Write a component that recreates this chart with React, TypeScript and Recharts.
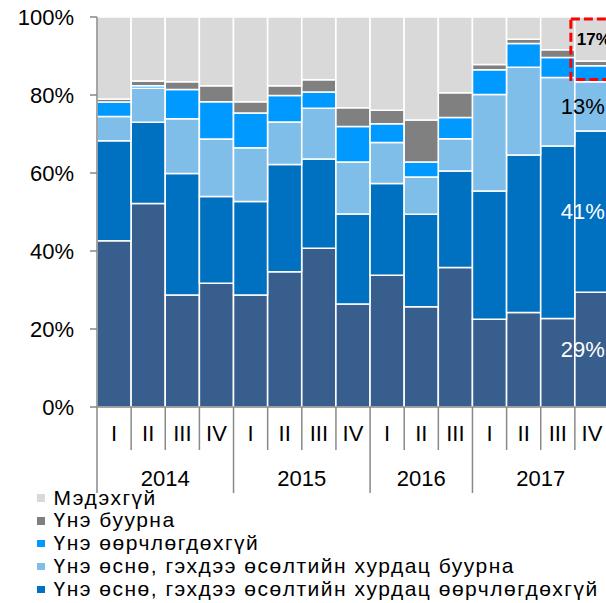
import React from "react";
import { BarChart, Bar, XAxis, YAxis, Legend, LabelList } from "recharts";

const categories = ["2014-I","2014-II","2014-III","2014-IV","2015-I","2015-II","2015-III","2015-IV","2016-I","2016-II","2016-III","2017-I","2017-II","2017-III","2017-IV"];
const quarters = ["I","II","III","IV","I","II","III","IV","I","II","III","I","II","III","IV"];
const years = ["2014","2014","2014","2014","2015","2015","2015","2015","2016","2016","2016","2017","2017","2017","2017"];
const yTicks = [0, 20, 40, 60, 80, 100];

const riseFaster = [42.6, 52.2, 28.7, 31.7, 28.7, 34.7, 40.7, 26.4, 33.8, 25.7, 35.8, 22.5, 24.2, 22.7, 29.4];
const riseSame = [25.7, 20.8, 31.2, 22.3, 24.0, 27.5, 22.9, 23.1, 23.5, 23.7, 24.7, 32.9, 40.4, 44.2, 41.4];
const riseSlower = [6.2, 8.7, 14.0, 14.7, 13.8, 10.9, 13.0, 13.3, 10.5, 9.6, 8.3, 24.7, 22.5, 17.6, 12.6];
const noChange = [3.7, 0.7, 7.5, 9.6, 8.9, 6.8, 4.2, 9.1, 4.8, 3.8, 5.4, 6.4, 6.1, 5.1, 4.1];
const fall = [0.8, 1.2, 2.0, 4.1, 2.9, 2.5, 3.1, 4.8, 3.5, 10.8, 6.4, 1.3, 1.1, 2.0, 1.2];
const dontKnow = [21.0, 16.4, 16.6, 17.6, 21.7, 17.6, 16.1, 23.3, 23.9, 26.4, 19.4, 12.2, 5.7, 8.4, 11.3];

const seriesNames = {
  riseFaster: "Үнэ өснө, өсөлтийн хурдац нэмэгдэнэ",
  riseSame: "Үнэ өснө, гэхдээ өсөлтийн хурдац өөрчлөгдөхгүй",
  riseSlower: "Үнэ өснө, гэхдээ өсөлтийн хурдац буурна",
  noChange: "Үнэ өөрчлөгдөхгүй",
  fall: "Үнэ буурна",
  dontKnow: "Мэдэхгүй",
};
const lastBarLabels = { riseFaster: "29%", riseSame: "41%", riseSlower: "13%", dontKnow: "17%" };
// highlighted range (in %) of the last bar: top three segments
const highlightRange = [84, 99.5];

const colors = {
  riseFaster: "#385E8E",
  riseSame: "#0070C0",
  riseSlower: "#80BEEA",
  noChange: "#0099FF",
  fall: "#808080",
  dontKnow: "#D9D9D9",
};

const stackOrder = ["riseFaster", "riseSame", "riseSlower", "noChange", "fall", "dontKnow"] as const;
const legendOrder = ["dontKnow", "fall", "noChange", "riseSlower", "riseSame"] as const;

const data = categories.map((key, i) => ({
  key,
  riseFaster: riseFaster[i],
  riseSame: riseSame[i],
  riseSlower: riseSlower[i],
  noChange: noChange[i],
  fall: fall[i],
  dontKnow: dontKnow[i],
}));

const FONT = "Arial, 'Liberation Sans', sans-serif";
const AXIS = "#898989";

const XTick = (props: any) => {
  const { x, y, index, visibleTicksCount, width } = props;
  const n = visibleTicksCount || categories.length;
  const bw = (typeof width === "number" ? width : 512) / n;
  const left = x - bw / 2;
  const yearStart = index === 0 || years[index] !== years[index - 1];
  const groupCount = years.filter((yy) => yy === years[index]).length;
  const isLast = index === n - 1;
  return (
    <g>
      <line x1={left} x2={left} y1={y} y2={y + (yearStart ? 86 : 43)} stroke={AXIS} strokeWidth={1.5} />
      {isLast && <line x1={x + bw / 2} x2={x + bw / 2} y1={y} y2={y + 86} stroke={AXIS} strokeWidth={1.5} />}
      <text x={x} y={y + 26} dy="0.35em" textAnchor="middle" fontSize={22} fontFamily={FONT} fill="#000">
        {quarters[index]}
      </text>
      {yearStart && (
        <text x={left + (groupCount * bw) / 2} y={y + 71} dy="0.35em" textAnchor="middle" fontSize={22} fontFamily={FONT} fill="#000">
          {years[index]}
        </text>
      )}
    </g>
  );
};

const makeLabel = (seriesKey: string) => (p: any) => {
  const { x, y, width, height, index, value } = p;
  const text = (lastBarLabels as any)[seriesKey];
  if (index !== categories.length - 1 || !text) return null;
  const top = seriesKey === "dontKnow";
  const cx = x + width / 2 + (top ? 2 : -9);
  const fill = seriesKey === "riseFaster" || seriesKey === "riseSame" ? "#fff" : "#000";
  let box = null;
  if (top && value) {
    const pp = height / value; // pixels per percent from the bar's own geometry
    const by1 = y + (100 - highlightRange[1]) * pp;
    const by2 = y + (100 - highlightRange[0]) * pp;
    box = (
      <rect x={x - 4} y={by1} width={width + 8} height={by2 - by1} fill="none" stroke="#FF0000" strokeWidth={3} strokeDasharray="9 4" />
    );
  }
  return (
    <g>
      {box}
      <text x={cx} y={y + height / 2} dy="0.35em" textAnchor="middle" fontSize={top ? 17 : 22} fontWeight={top ? "bold" : "normal"} fontFamily={FONT} fill={fill}>
        {text}
      </text>
    </g>
  );
};

const renderLegend = () => (
  <div style={{ fontFamily: FONT, fontSize: 21, letterSpacing: 1.5, color: "#000", whiteSpace: "nowrap" }}>
    {legendOrder.map((k) => (
      <div key={k} style={{ display: "flex", alignItems: "center", height: 22.9, lineHeight: "22.9px" }}>
        <span style={{ display: "inline-block", width: 7.5, height: 7.5, background: colors[k], marginRight: 9 }} />
        <span>{seriesNames[k]}</span>
      </div>
    ))}
  </div>
);

export default function App() {
  return (
    <div style={{ position: "fixed", left: 0, top: 0, width: 606, height: 603, overflow: "hidden", background: "#fff" }}>
      <BarChart
        width={630}
        height={603}
        data={data}
        margin={{ top: 17, right: 21, bottom: 0, left: 0 }}
        barCategoryGap={0}
        barGap={0}
      >
        <YAxis
          type="number"
          domain={[0, 100]}
          ticks={yTicks}
          width={97}
          tickSize={7}
          tickMargin={16}
          axisLine={{ stroke: AXIS, strokeWidth: 1.5 }}
          tickLine={{ stroke: AXIS, strokeWidth: 1.5 }}
          tick={{ fontSize: 22, fontFamily: FONT, fill: "#000" }}
          tickFormatter={(v: number) => `${v}%`}
          interval={0}
        />
        <XAxis
          dataKey="key"
          height={196}
          interval={0}
          tickSize={0}
          tickMargin={0}
          tickLine={false}
          axisLine={{ stroke: AXIS, strokeWidth: 1.5 }}
          tick={<XTick />}
        />
        {stackOrder.map((k) => (
          <Bar
            key={k}
            dataKey={k}
            stackId="a"
            fill={colors[k]}
            stroke="#fff"
            strokeWidth={1.5}
            isAnimationActive={false}
            name={seriesNames[k]}
          >
            <LabelList dataKey={k} content={makeLabel(k)} />
          </Bar>
        ))}
        <Legend
          layout="vertical"
          align="center"
          verticalAlign="middle"
          content={renderLegend}
          wrapperStyle={{ left: 37, top: 486.5, right: "auto", bottom: "auto", width: 620, height: "auto" }}
        />
      </BarChart>
    </div>
  );
}
